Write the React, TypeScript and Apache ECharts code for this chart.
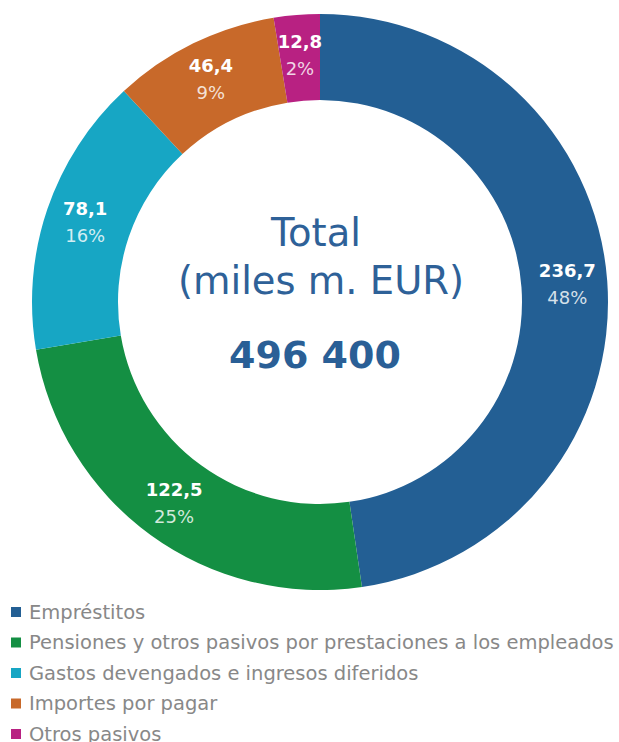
import React, { useEffect, useRef } from "react";
import * as echarts from "echarts";

const categories = [
  "Empréstitos",
  "Pensiones y otros pasivos por prestaciones a los empleados",
  "Gastos devengados e ingresos diferidos",
  "Importes por pagar",
  "Otros pasivos",
];
const values = [236.7, 122.5, 78.1, 46.4, 12.8];
const valueLabels = ["236,7", "122,5", "78,1", "46,4", "12,8"];
const percentLabels = ["48%", "25%", "16%", "9%", "2%"];
const colors = ["#235f94", "#148f43", "#17a6c4", "#c8692a", "#b82182"];
const centerTitle = ["Total", "(miles m. EUR)"];
const centerTotal = "496 400";

const FONT = "DejaVu Sans";

export default function App() {
  const ref = useRef<HTMLDivElement>(null);
  useEffect(() => {
    if (!ref.current) return;
    const chart = echarts.init(ref.current, null, { renderer: "svg" });
    chart.setOption({
      animation: false,
      color: colors,
      textStyle: { fontFamily: FONT },
      legend: {
        orient: "vertical",
        left: 11,
        top: 602,
        height: 200,
        padding: 0,
        itemWidth: 10,
        itemHeight: 10,
        itemGap: 10.5,
        icon: "rect",
        selectedMode: false,
        textStyle: { fontFamily: FONT, fontSize: 19.5, color: "#888888", lineHeight: 20, padding: [0, 0, 0, 3] },
        data: categories,
      },
      graphic: [
        {
          type: "text",
          x: 316,
          y: 232,
          style: { text: centerTitle[0], font: `38.5px '${FONT}'`, fill: "#2e6198", textAlign: "center", textVerticalAlign: "middle" },
        },
        {
          type: "text",
          x: 321,
          y: 280,
          style: { text: centerTitle[1], font: `38.5px '${FONT}'`, fill: "#2e6198", textAlign: "center", textVerticalAlign: "middle" },
        },
        {
          type: "text",
          x: 315,
          y: 355,
          style: { text: centerTotal, font: `bold 38px '${FONT}'`, fill: "#2a5f96", textAlign: "center", textVerticalAlign: "middle" },
        },
      ],
      series: [
        {
          type: "pie",
          center: [320, 302],
          radius: [202, 288],
          startAngle: 90,
          clockwise: true,
          avoidLabelOverlap: false,
          emphasis: { disabled: true },
          itemStyle: { borderWidth: 0 },
          label: {
            show: true,
            position: "inside",
            formatter: (p: any) => `{v|${valueLabels[p.dataIndex]}}\n{p|${percentLabels[p.dataIndex]}}`,
            rich: {
              v: { fontFamily: FONT, fontSize: 18, fontWeight: "bold", color: "#ffffff", lineHeight: 27 },
              p: { fontFamily: FONT, fontSize: 18, color: "rgba(255,255,255,0.82)", lineHeight: 27 },
            },
          },
          labelLine: { show: false },
          data: categories.map((name, i) => ({ name, value: values[i] })),
        },
      ],
    });
    return () => chart.dispose();
  }, []);
  return <div ref={ref} style={{ position: "fixed", left: 0, top: 0, width: 619, height: 742, background: "#fff" }} />;
}
